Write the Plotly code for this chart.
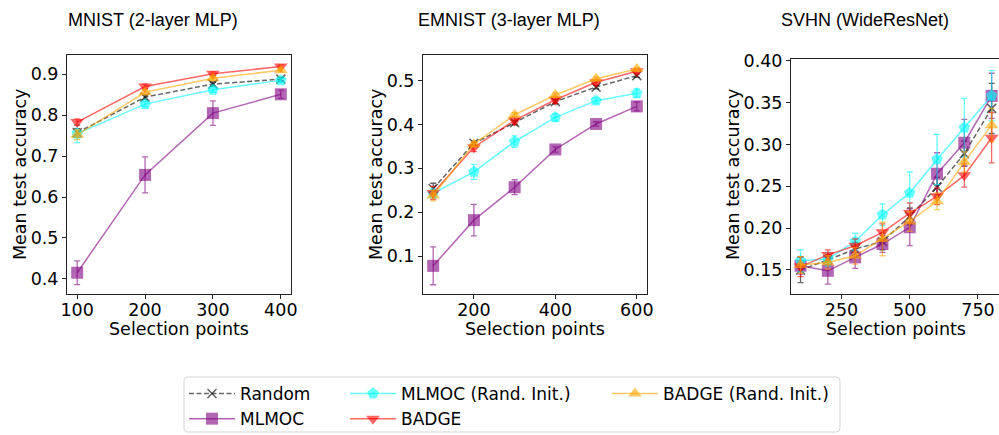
import plotly.graph_objects as go

W, H = 999, 435

# ---------------- data ----------------
methods = ["Random", "MLMOC", "MLMOC (Rand. Init.)", "BADGE", "BADGE (Rand. Init.)"]

mnist_x = [100, 200, 300, 400]
mnist_random = [0.757, 0.844, 0.876, 0.888]
mnist_random_err = [0.010, 0.006, 0.005, 0.004]
mnist_mlmoc = [0.415, 0.654, 0.805, 0.851]
mnist_mlmoc_err = [0.029, 0.044, 0.030, 0.010]
mnist_mlmoc_ri = [0.755, 0.827, 0.862, 0.885]
mnist_mlmoc_ri_err = [0.022, 0.006, 0.006, 0.005]
mnist_badge = [0.783, 0.870, 0.901, 0.919]
mnist_badge_err = [0.008, 0.006, 0.005, 0.004]
mnist_badge_ri = [0.752, 0.856, 0.890, 0.910]
mnist_badge_ri_err = [0.012, 0.006, 0.005, 0.004]

emnist_x = [100, 200, 300, 400, 500, 600]
emnist_random = [0.254, 0.357, 0.404, 0.452, 0.485, 0.511]
emnist_random_err = [0.012, 0.005, 0.005, 0.005, 0.004, 0.004]
emnist_mlmoc = [0.078, 0.182, 0.257, 0.343, 0.401, 0.441]
emnist_mlmoc_err = [0.043, 0.036, 0.017, 0.006, 0.005, 0.010]
emnist_mlmoc_ri = [0.243, 0.292, 0.361, 0.416, 0.454, 0.471]
emnist_mlmoc_ri_err = [0.010, 0.017, 0.013, 0.008, 0.006, 0.010]
emnist_badge = [0.244, 0.348, 0.409, 0.456, 0.496, 0.521]
emnist_badge_err = [0.015, 0.010, 0.008, 0.008, 0.005, 0.005]
emnist_badge_ri = [0.238, 0.355, 0.422, 0.467, 0.504, 0.526]
emnist_badge_ri_err = [0.012, 0.006, 0.005, 0.005, 0.004, 0.004]

svhn_x = [100, 200, 300, 400, 500, 600, 700, 800]
svhn_random = [0.150, 0.162, 0.175, 0.184, 0.214, 0.249, 0.289, 0.343]
svhn_random_err = [0.015, 0.006, 0.008, 0.010, 0.010, 0.012, 0.015, 0.030]
svhn_mlmoc = [0.155, 0.149, 0.165, 0.181, 0.201, 0.265, 0.302, 0.358]
svhn_mlmoc_err = [0.010, 0.016, 0.013, 0.010, 0.022, 0.025, 0.028, 0.027]
svhn_mlmoc_ri = [0.161, 0.163, 0.184, 0.216, 0.242, 0.282, 0.320, 0.358]
svhn_mlmoc_ri_err = [0.013, 0.008, 0.010, 0.013, 0.025, 0.030, 0.035, 0.030]
svhn_badge = [0.154, 0.168, 0.179, 0.195, 0.218, 0.238, 0.263, 0.308]
svhn_badge_err = [0.012, 0.006, 0.008, 0.010, 0.012, 0.010, 0.014, 0.030]
svhn_badge_ri = [0.156, 0.159, 0.167, 0.187, 0.208, 0.232, 0.279, 0.323]
svhn_badge_ri_err = [0.010, 0.008, 0.010, 0.020, 0.012, 0.010, 0.012, 0.020]

titles = ["MNIST (2-layer MLP)", "EMNIST (3-layer MLP)", "SVHN (WideResNet)"]
x_label = "Selection points"
y_label = "Mean test accuracy"

mnist_xticks = [100, 200, 300, 400]
mnist_yticks = [0.4, 0.5, 0.6, 0.7, 0.8, 0.9]
emnist_xticks = [200, 400, 600]
emnist_yticks = [0.1, 0.2, 0.3, 0.4, 0.5]
svhn_xticks = [250, 500, 750]
svhn_yticks = [0.15, 0.20, 0.25, 0.30, 0.35, 0.40]

panels = [
    dict(x=mnist_x,
         series=[(mnist_random, mnist_random_err), (mnist_mlmoc, mnist_mlmoc_err),
                 (mnist_mlmoc_ri, mnist_mlmoc_ri_err), (mnist_badge, mnist_badge_err),
                 (mnist_badge_ri, mnist_badge_ri_err)],
         xticks=mnist_xticks, yticks=mnist_yticks, yfmt=".1f"),
    dict(x=emnist_x,
         series=[(emnist_random, emnist_random_err), (emnist_mlmoc, emnist_mlmoc_err),
                 (emnist_mlmoc_ri, emnist_mlmoc_ri_err), (emnist_badge, emnist_badge_err),
                 (emnist_badge_ri, emnist_badge_ri_err)],
         xticks=emnist_xticks, yticks=emnist_yticks, yfmt=".1f"),
    dict(x=svhn_x,
         series=[(svhn_random, svhn_random_err), (svhn_mlmoc, svhn_mlmoc_err),
                 (svhn_mlmoc_ri, svhn_mlmoc_ri_err), (svhn_badge, svhn_badge_err),
                 (svhn_badge_ri, svhn_badge_ri_err)],
         xticks=svhn_xticks, yticks=svhn_yticks, yfmt=".2f"),
]

# ---------------- styling ----------------
styles = {
    "Random": dict(color="rgba(0,0,0,0.6)", symbol="x-thin", size=9, dash="5px,2.5px", legend="legend"),
    "MLMOC": dict(color="rgba(128,0,128,0.6)", symbol="square", size=12, dash="solid", legend="legend"),
    "MLMOC (Rand. Init.)": dict(color="rgba(0,255,255,0.6)", symbol="pentagon", size=12, dash="solid", legend="legend2"),
    "BADGE": dict(color="rgba(255,0,0,0.6)", symbol="triangle-down", size=12, dash="solid", legend="legend2"),
    "BADGE (Rand. Init.)": dict(color="rgba(255,165,0,0.6)", symbol="triangle-up", size=12, dash="solid", legend="legend3"),
}


def px_x(p):
    return p / W


def px_y(p):
    return 1 - p / H


# axes pixel boxes (left, right, top, bottom)
boxes = [(67, 291, 55, 294), (423, 647, 55, 294), (791, 999, 59, 294)]
xranges = [[85, 415], [75, 625], [65, 827]]
yranges = [[0.363, 0.947], [0.0139, 0.558], [0.1213, 0.402]]

fig = go.Figure()
FONT = "DejaVu Sans, Liberation Sans, sans-serif"

for pi, panel in enumerate(panels):
    xa = "x" if pi == 0 else f"x{pi+1}"
    ya = "y" if pi == 0 else f"y{pi+1}"
    for mi, m in enumerate(methods):
        st = styles[m]
        yv, ev = panel["series"][mi]
        marker = dict(symbol=st["symbol"], size=st["size"], color=st["color"])
        if st["symbol"] == "x-thin":
            marker["line"] = dict(color=st["color"], width=1.6)
        else:
            marker["line"] = dict(width=0)
        fig.add_trace(go.Scatter(
            x=panel["x"], y=yv, mode="lines+markers", name=m,
            xaxis=xa, yaxis=ya,
            line=dict(color=st["color"], width=1.5, dash=st["dash"]),
            marker=marker,
            error_y=dict(type="data", array=ev, visible=True, color=st["color"], thickness=1.3, width=3),
            showlegend=(pi == 0), legend=st["legend"],
        ))

layout_axes = {}
for pi, panel in enumerate(panels):
    l, r, t, b = boxes[pi]
    xk = "xaxis" if pi == 0 else f"xaxis{pi+1}"
    yk = "yaxis" if pi == 0 else f"yaxis{pi+1}"
    layout_axes[xk] = dict(
        domain=[px_x(l), px_x(r)], range=xranges[pi], anchor="y" if pi == 0 else f"y{pi+1}",
        tickvals=panel["xticks"], ticks="outside", ticklen=4, tickwidth=1, tickcolor="#222",
        showline=True, linecolor="#222", linewidth=1, mirror=True, showgrid=False, zeroline=False,
        automargin=False, ticklabelstandoff=-4,
        tickfont=dict(family=FONT, size=17.5, color="black"),
    )
    layout_axes[yk] = dict(
        domain=[px_y(b), px_y(t)], range=yranges[pi], anchor="x" if pi == 0 else f"x{pi+1}",
        tickvals=panel["yticks"], tickformat=panel["yfmt"], ticks="outside", ticklen=4, tickwidth=1,
        tickcolor="#222", showline=True, linecolor="#222", linewidth=1, mirror=(pi != 2),
        showgrid=False, zeroline=False, automargin=False,
        tickfont=dict(family=FONT, size=17.5, color="black"),
    )

annotations = []
title_cx = [153, 509, 865]
ylab_cx = [20, 376, 733]
for pi in range(3):
    l, r, t, b = boxes[pi]
    annotations.append(dict(text=titles[pi], x=px_x(title_cx[pi]), y=px_y(20), xref="paper", yref="paper",
                            xanchor="center", yanchor="middle", showarrow=False,
                            font=dict(family="Liberation Sans, Arial, sans-serif", size=18, color="black")))
    cx = (l + (1001 if pi == 2 else r)) / 2
    annotations.append(dict(text=x_label, x=px_x(cx), y=px_y(329), xref="paper", yref="paper",
                            xanchor="center", yanchor="middle", showarrow=False,
                            font=dict(family=FONT, size=17.5, color="black")))
    annotations.append(dict(text=y_label, x=px_x(ylab_cx[pi]), y=px_y(175), xref="paper", yref="paper",
                            xanchor="center", yanchor="middle", showarrow=False, textangle=-90,
                            font=dict(family=FONT, size=17.5, color="black")))

# legend frame (rounded rectangle)
lx0, lx1, ly0, ly1, rr = 184, 840, 377, 432, 4
def P(x, y):
    return f"{px_x(x):.5f},{px_y(y):.5f}"
path = (f"M {P(lx0+rr, ly0)} L {P(lx1-rr, ly0)} Q {P(lx1, ly0)} {P(lx1, ly0+rr)} "
        f"L {P(lx1, ly1-rr)} Q {P(lx1, ly1)} {P(lx1-rr, ly1)} L {P(lx0+rr, ly1)} "
        f"Q {P(lx0, ly1)} {P(lx0, ly1-rr)} L {P(lx0, ly0+rr)} Q {P(lx0, ly0)} {P(lx0+rr, ly0)} Z")
shapes = [dict(type="path", xref="paper", yref="paper", path=path,
               line=dict(color="#d4d4d4", width=1), fillcolor="rgba(255,255,255,0.8)", layer="below")]

leg_common = dict(orientation="v", xanchor="left", yanchor="top", bgcolor="rgba(0,0,0,0)",
                  borderwidth=0, font=dict(family=FONT, size=17, color="black"), itemwidth=46,
                  tracegroupgap=0)

fig.update_layout(
    width=W, height=H, margin=dict(l=0, r=0, t=0, b=0, autoexpand=False),
    paper_bgcolor="white", plot_bgcolor="white",
    annotations=annotations, shapes=shapes,
    legend=dict(x=px_x(184), y=px_y(376), **leg_common),
    legend2=dict(x=px_x(345), y=px_y(376), **leg_common),
    legend3=dict(x=px_x(607), y=px_y(376), **leg_common),
    **layout_axes,
)

fig.write_html("out.html", config={"displayModeBar": False},
               post_script="document.body.style.margin='0px';document.body.style.overflow='hidden';")
